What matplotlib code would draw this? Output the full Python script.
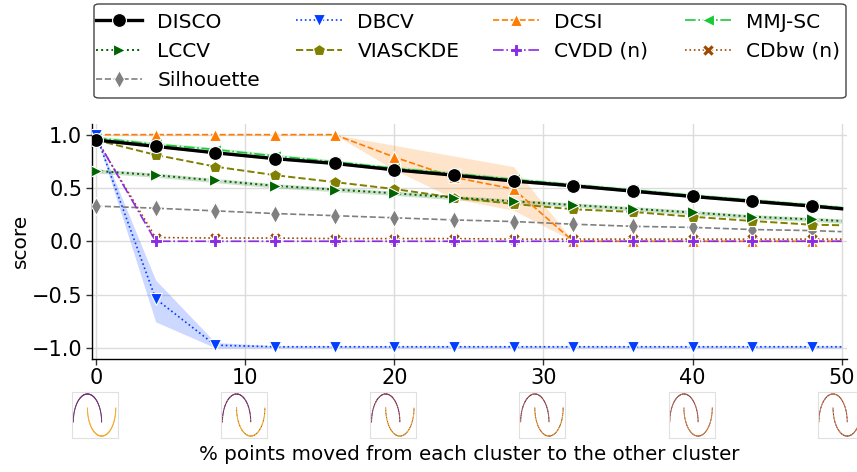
import numpy as np
import matplotlib
matplotlib.use("Agg")
import matplotlib.pyplot as plt
from matplotlib.patches import FancyBboxPatch

# ---------------- data ----------------
x = [0, 4, 8, 12, 16, 20, 24, 28, 32, 36, 40, 44, 48, 50]

disco = [0.95, 0.89, 0.83, 0.775, 0.73, 0.67, 0.62, 0.565, 0.52, 0.47, 0.42, 0.375, 0.33, 0.305]
disco_lo = [0.94, 0.88, 0.82, 0.765, 0.72, 0.66, 0.61, 0.555, 0.51, 0.46, 0.41, 0.365, 0.32, 0.295]
disco_hi = [0.96, 0.90, 0.84, 0.785, 0.74, 0.68, 0.63, 0.575, 0.53, 0.48, 0.43, 0.385, 0.34, 0.315]

dbcv = [1.0, -0.54, -0.975, -0.99, -0.99, -0.99, -0.99, -0.99, -0.99, -0.99, -0.99, -0.99, -0.99, -0.99]
dbcv_lo = [1.0, -0.756, -1.0, -1.0, -1.0, -1.0, -1.0, -1.0, -1.0, -1.0, -1.0, -1.0, -1.0, -1.0]
dbcv_hi = [1.0, -0.365, -0.95, -0.98, -0.98, -0.98, -0.98, -0.98, -0.98, -0.98, -0.98, -0.98, -0.98, -0.98]

dcsi = [1.0, 1.0, 1.0, 1.0, 1.0, 0.79, 0.60, 0.49, 0.0, 0.0, 0.0, 0.0, 0.0, 0.0]
dcsi_lo = [1.0, 1.0, 1.0, 1.0, 1.0, 0.67, 0.40, 0.29, 0.0, 0.0, 0.0, 0.0, 0.0, 0.0]
dcsi_hi = [1.0, 1.0, 1.0, 1.0, 1.0, 0.90, 0.80, 0.70, 0.0, 0.0, 0.0, 0.0, 0.0, 0.0]

mmj = [0.97, 0.91, 0.86, 0.80, 0.745, 0.685, 0.635, 0.58, 0.53, 0.48, 0.43, 0.385, 0.34, 0.315]
mmj_lo = [0.95, 0.89, 0.84, 0.78, 0.725, 0.665, 0.615, 0.56, 0.51, 0.46, 0.41, 0.365, 0.32, 0.295]
mmj_hi = [0.99, 0.93, 0.88, 0.82, 0.765, 0.705, 0.655, 0.60, 0.55, 0.50, 0.45, 0.405, 0.36, 0.335]

lccv = [0.66, 0.62, 0.57, 0.52, 0.485, 0.45, 0.41, 0.375, 0.34, 0.305, 0.27, 0.23, 0.205, 0.19]
lccv_lo = [0.64, 0.60, 0.55, 0.50, 0.465, 0.43, 0.39, 0.355, 0.32, 0.285, 0.25, 0.21, 0.185, 0.17]
lccv_hi = [0.68, 0.64, 0.59, 0.54, 0.505, 0.47, 0.43, 0.395, 0.36, 0.325, 0.29, 0.25, 0.225, 0.21]

viasckde = [0.95, 0.81, 0.70, 0.62, 0.555, 0.49, 0.41, 0.35, 0.30, 0.275, 0.23, 0.19, 0.155, 0.15]
cvdd = [0.97, 0.0, 0.0, 0.0, 0.0, 0.0, 0.0, 0.0, 0.0, 0.0, 0.0, 0.0, 0.0, 0.0]
cdbw = [0.96, 0.035, 0.03, 0.03, 0.025, 0.025, 0.025, 0.02, 0.02, 0.02, 0.02, 0.02, 0.02, 0.02]
silhouette = [0.33, 0.31, 0.285, 0.26, 0.24, 0.22, 0.20, 0.185, 0.16, 0.14, 0.13, 0.11, 0.10, 0.09]

thumb_pcts = [0, 10, 20, 30, 40, 50]
yticks = [-1.0, -0.5, 0.0, 0.5, 1.0]
xticks = [0, 10, 20, 30, 40, 50]

# ---------------- figure ----------------
W, H = 857, 472
fig = plt.figure(figsize=(W / 100, H / 100), dpi=100)
plt.rcParams['font.family'] = ['DejaVu Sans']

ax_l, ax_r, ax_t, ax_b = 92, 847, 124, 358.5
ax = fig.add_axes([ax_l / W, 1 - ax_b / H, (ax_r - ax_l) / W, (ax_b - ax_t) / H])
xmin, xmax = -0.27, 50.36
ax.set_xlim(xmin, xmax)
ax.set_ylim(-1.1, 1.1)

mev = list(range(len(x) - 1))

series = [
    # label, y, lo, hi, color, ls, marker, ms, lw, z
    ("DISCO", disco, disco_lo, disco_hi, "black", "-", "o", 10, 2.4, 10),
    ("LCCV", lccv, lccv_lo, lccv_hi, "darkgreen", ":", ">", 9, 1.4, 5),
    ("Silhouette", silhouette, None, None, "gray", "--", "d", 9, 1.2, 4),
    ("DBCV", dbcv, dbcv_lo, dbcv_hi, "#023eff", ":", "v", 9, 1.2, 6),
    ("VIASCKDE", viasckde, None, None, "olive", "--", "p", 9, 1.4, 4),
    ("DCSI", dcsi, dcsi_lo, dcsi_hi, "#ff7c00", "--", "^", 9, 1.2, 5),
    ("CVDD (n)", cvdd, None, None, "#8b2be2", "-.", "P", 9, 1.2, 5),
    ("MMJ-SC", mmj, mmj_lo, mmj_hi, "#1ac938", "-.", "<", 8, 1.2, 7),
    ("CDbw (n)", cdbw, None, None, "#9f4800", ":", "X", 8, 1.2, 4),
]

handles = []
for lab, yv, lo, hi, col, ls, mk, ms, lw, z in series:
    if lo is not None:
        ax.fill_between(x, lo, hi, color=col, alpha=0.2, linewidth=0, zorder=2)
    h, = ax.plot(x, yv, color=col, linestyle=ls, marker=mk, markersize=ms,
                 markeredgecolor="white", markeredgewidth=0.8, linewidth=lw,
                 markevery=mev, label=lab, zorder=z)
    handles.append(h)

ax.set_xticks(xticks)
ax.set_yticks(yticks)
ax.grid(True, color="#dcdcdc", linewidth=1.0, zorder=0)
ax.set_axisbelow(True)
for s in ["top", "right"]:
    ax.spines[s].set_visible(False)
for s in ["left", "bottom"]:
    ax.spines[s].set_color("black")
    ax.spines[s].set_linewidth(1.0)
ax.tick_params(axis="both", labelsize=15, length=4, width=1, color="#333333", pad=3)
ax.set_ylabel("score", fontsize=14.5, labelpad=1.5)

# ---------------- legend: 4 columns with one shared frame ----------------
frame = FancyBboxPatch((94 / W, 1 - 98 / H), (846 - 94) / W, (98 - 4) / H,
                       boxstyle="round,pad=0,rounding_size=0.006",
                       transform=fig.transFigure, facecolor="white",
                       edgecolor="#444444", linewidth=1.0, zorder=1)
fig.patches.append(frame)

columns = [handles[0:3], handles[3:5], handles[5:7], handles[7:9]]
col_starts = [96, 296, 493, 685]
for hs, hx in zip(columns, col_starts):
    lg = fig.legend(handles=hs, loc="upper left", bbox_to_anchor=(hx / W, 1 - 12.5 / H),
                    frameon=False, fontsize=14.5, handlelength=2.3, handletextpad=0.75,
                    labelspacing=0.52, borderpad=0, borderaxespad=0)
    lg.set_zorder(2)

# ---------------- thumbnails (two moons with swapped points) ----------------
n = 160
theta = np.linspace(0, np.pi, n)
upper = np.column_stack([np.cos(theta), np.sin(theta)])
lower = np.column_stack([1 - np.cos(theta), 0.5 - np.sin(theta)])
c_purple = "#6a2a6e"
c_orange = "#f5a623"
golden = 0.6180339887

box = 46
for p in thumb_pcts:
    cx = ax_l + (p - xmin) / (xmax - xmin) * (ax_r - ax_l)
    left = cx - box / 2 - 1
    tax = fig.add_axes([left / W, 1 - 438.3 / H, box / W, box / H])
    frac = p / 100.0
    idx = np.arange(n)
    swap = ((idx * golden) % 1.0) < frac
    col_u = np.where(swap, c_orange, c_purple)
    col_l = np.where(swap, c_purple, c_orange)
    tax.scatter(upper[:, 0], upper[:, 1], s=0.6, c=col_u, linewidths=0)
    tax.scatter(lower[:, 0], lower[:, 1], s=0.6, c=col_l, linewidths=0)
    tax.set_xlim(-1.09, 2.16)
    tax.set_ylim(-0.58, 1.06)
    tax.set_xticks([])
    tax.set_yticks([])
    for s in tax.spines.values():
        s.set_color("#e0e0e0")
        s.set_linewidth(0.8)

fig.text((ax_l + ax_r) / 2 / W, 1 - 455 / H,
         "% points moved from each cluster to the other cluster",
         ha="center", va="center", fontsize=14.3)

fig.savefig("out.png", dpi=100)
